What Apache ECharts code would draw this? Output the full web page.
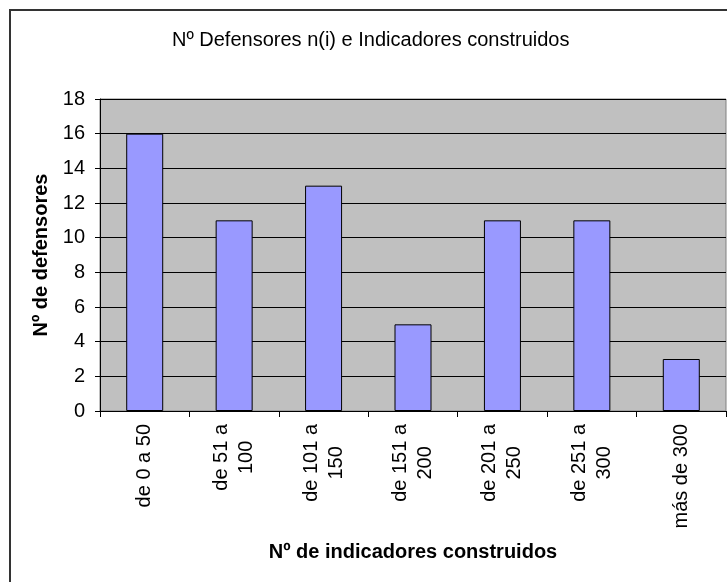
<!DOCTYPE html>
<html>
<head>
<meta charset="utf-8">
<script src="https://cdn.jsdelivr.net/npm/echarts@6/dist/echarts.min.js"></script>
<style>
  html, body { margin: 0; padding: 0; background: #fff; }
  #chart { width: 727px; height: 582px; }
</style>
</head>
<body>
<div id="chart"></div>
<script>
// categorías del eje x (rangos de indicadores)
const categories = ['de 0 a 50', 'de 51 a\n100', 'de 101 a\n150', 'de 151 a\n200', 'de 201 a\n250', 'de 251 a\n300', 'más de 300'];
// nº de defensores por rango
const defensores = [16, 11, 13, 5, 11, 11, 3];
// marcas del eje y
const yMin = 0;
const yMax = 18;
const yStep = 2;

const font = '"Liberation Sans", Arial, sans-serif';

const chart = echarts.init(document.getElementById('chart'));

const options = {
  animation: false,
  backgroundColor: '#fff',
  textStyle: { fontFamily: font },
  // marco exterior del gráfico (recortado a la derecha y abajo)
  graphic: [
    {
      type: 'rect',
      shape: { x: 10, y: 10, width: 900, height: 800 },
      style: { fill: 'none', stroke: '#333', lineWidth: 2 },
      silent: true,
    },
  ],
  title: {
    text: 'Nº Defensores n(i) e Indicadores construidos',
    left: 172,
    top: 30,
    padding: 0,
    textStyle: {
      fontFamily: font,
      fontSize: 20,
      fontWeight: 'normal',
      color: '#000',
    },
  },
  grid: {
    left: 100,
    top: 99,
    right: 1,
    bottom: 171,
    show: true,
    backgroundColor: '#C0C0C0',
    borderColor: '#808080',
    borderWidth: 1,
  },
  xAxis: {
    type: 'category',
    data: categories,
    name: 'Nº de indicadores construidos',
    nameLocation: 'middle',
    nameGap: 131,
    nameTextStyle: {
      fontFamily: font,
      fontSize: 20,
      fontWeight: 'bold',
      color: '#000',
    },
    axisLine: { show: true, lineStyle: { color: '#000', width: 1 } },
    axisTick: { show: true, length: 6, lineStyle: { color: '#000' } },
    axisLabel: {
      rotate: 90,
      margin: 13,
      interval: 0,
      color: '#000',
      fontSize: 20,
      fontFamily: font,
      lineHeight: 25,
      formatter: (value) => value.split('\n').map((s) => '{c|' + s + '}').join('\n'),
      rich: {
        c: {
          align: 'center',
          fontSize: 20,
          fontFamily: font,
          color: '#000',
          lineHeight: 25,
        },
      },
    },
    splitLine: { show: false },
  },
  yAxis: {
    type: 'value',
    min: yMin,
    max: yMax,
    interval: yStep,
    name: 'Nº de defensores',
    nameLocation: 'middle',
    nameGap: 46,
    nameTextStyle: {
      fontFamily: font,
      fontSize: 20,
      fontWeight: 'bold',
      color: '#000',
    },
    axisLine: { show: true, lineStyle: { color: '#000', width: 1 } },
    axisTick: { show: true, length: 5, lineStyle: { color: '#000' } },
    axisLabel: {
      margin: 15,
      color: '#000',
      fontSize: 20,
      fontFamily: font,
    },
    splitLine: { show: true, lineStyle: { color: '#000', width: 1 } },
  },
  series: [
    {
      type: 'bar',
      data: defensores,
      barWidth: 37,
      itemStyle: {
        color: '#9999FF',
        borderColor: '#000',
        borderWidth: 1,
      },
    },
  ],
};

chart.setOption(options);
</script>
</body>
</html>
